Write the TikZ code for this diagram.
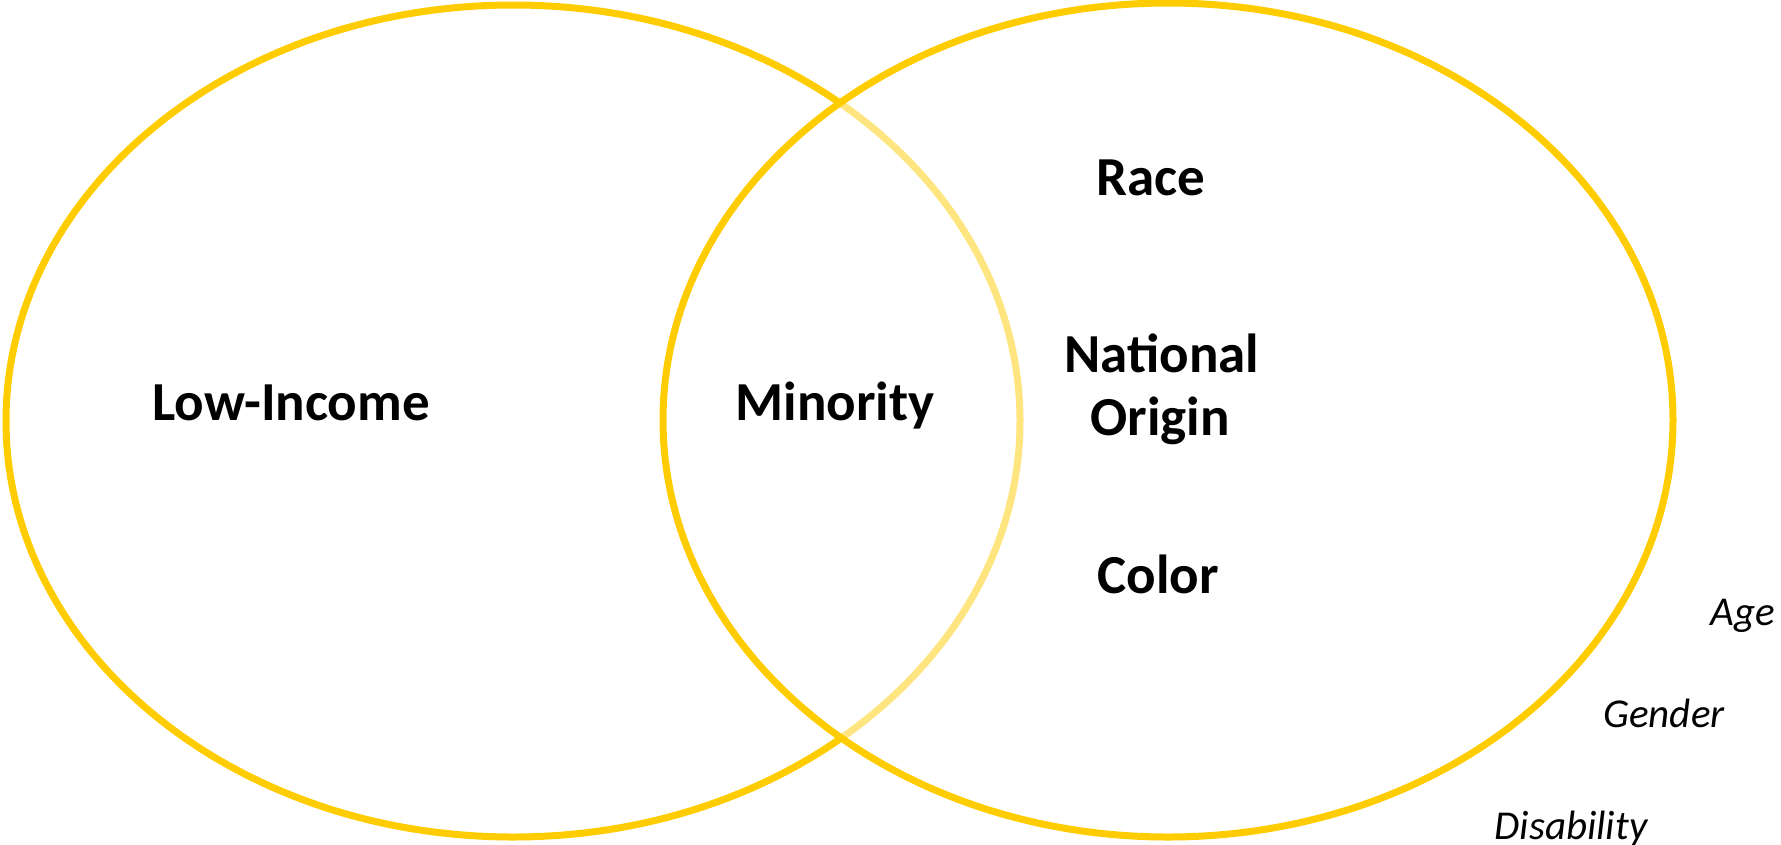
\documentclass[tikz,border=0pt]{standalone}
\usepackage{fontspec}
\setmainfont{Carlito}
\definecolor{venn}{HTML}{FFCC00}
\begin{document}
\begin{tikzpicture}[x=1pt,y=-1pt,
  ring/.style={draw=venn,line width=7pt},
  biglabel/.style={font=\fontsize{55}{62}\selectfont\bfseries,text=black,inner sep=0pt,anchor=base,align=center},
  smalllabel/.style={font=\fontsize{41}{46}\selectfont\itshape,text=black,inner sep=0pt,anchor=base}]
\useasboundingbox (0,0) rectangle (1781,844);
\path[ring] (513,421) ellipse [x radius=507pt, y radius=416pt];
\path[fill=white,fill opacity=0.5] (1168,420) ellipse [x radius=505pt, y radius=417pt];
\path[ring] (1168,420) ellipse [x radius=505pt, y radius=417pt];
\node[biglabel] (low) at (291,420) {Low-Income};
\node[biglabel] (min) at (835,420) {Minority};
\node[biglabel] (race) at (1151,195) {Race};
\node[biglabel] (nat) at (1162,372) {National};
\node[biglabel] (orig) at (1160,435) {Origin};
\node[biglabel] (color) at (1158,593) {Color};
\node[smalllabel] (age) at (1743,625) {Age};
\node[smalllabel] (gender) at (1664,727) {Gender};
\node[smalllabel] (dis) at (1571,839) {Disability};
\end{tikzpicture}
\end{document}
